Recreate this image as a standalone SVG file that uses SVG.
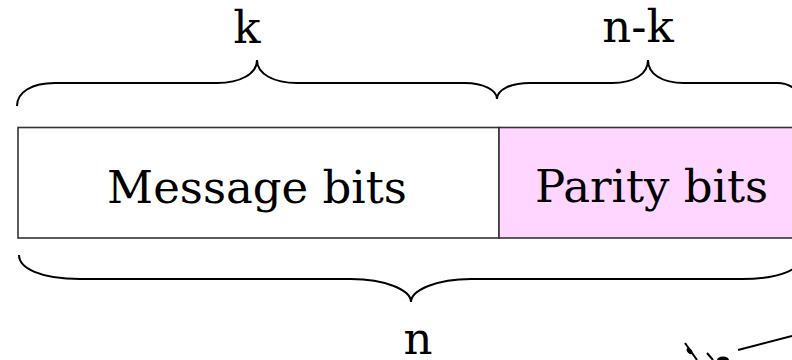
<svg xmlns="http://www.w3.org/2000/svg" width="792" height="360" viewBox="0 0 792 360">
<style>
.t{font-family:"DejaVu Serif","Liberation Serif",serif;font-size:45px;fill:#000;text-anchor:middle}
.br{fill:none;stroke:#000;stroke-width:2}
.box{stroke:#333;stroke-width:1.6}
</style>
<rect width="792" height="360" fill="#fff"/>
<g id="message">
<rect class="box" x="18" y="127.5" width="481" height="110.5" fill="#fff"/>
<text class="t" x="257" y="203">Message bits</text>
</g>
<g id="parity">
<rect class="box" x="499" y="127.5" width="310" height="110.5" fill="#FFD6FF"/>
<text class="t" x="651.5" y="202">Parity bits</text>
</g>
<g id="connectors">
<path id="brace-k" class="br" d="M17,106 C17,92 32,83 55,83 L217,83 C240,83 257,74 257,60 C257,74 274,83 297,83 L465,83 C483,83 497,90 497,99"/>
<path id="brace-nk" class="br" d="M497,99 C497,90 510,83 530,83 L612,83 C634,83 648,74 648,60 C648,74 662,83 684,83 L777,83 C790,83 799,90 799,99"/>
<path id="brace-n" class="br" d="M19,255 C19,268 40,279 80,279 L351,279 C385,279 411,290 411,302 C411,290 437,279 471,279 L742,279 C782,279 803,268 803,255"/>
<path class="br" d="M738,350 L792,336"/>
<path class="br" d="M685,343 L697,360"/>
<ellipse cx="689.5" cy="351" rx="3.5" ry="2.2" transform="rotate(50 689.5 351)"/>
<path class="br" d="M707,353 L713,360"/>
<ellipse cx="723" cy="360" rx="6" ry="3.5"/>
</g>
<g id="label-k"><text class="t" x="247" y="43">k</text></g>
<g id="label-nk"><text class="t" x="638" y="42">n-k</text></g>
<g id="label-n"><text class="t" x="418" y="354">n</text></g>
</svg>
